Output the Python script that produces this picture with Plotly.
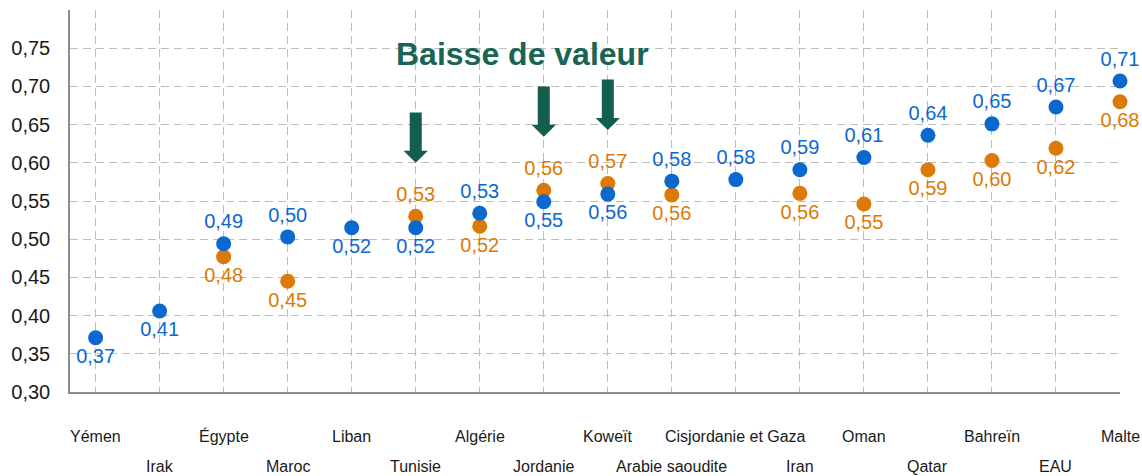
import plotly.graph_objects as go

categories = ["Yémen", "Irak", "Égypte", "Maroc", "Liban", "Tunisie", "Algérie",
              "Jordanie", "Koweït", "Arabie saoudite", "Cisjordanie et Gaza", "Iran",
              "Oman", "Qatar", "Bahreïn", "EAU", "Malte"]
blue_values = [0.371, 0.406, 0.494, 0.503, 0.515, 0.515, 0.534, 0.549, 0.559, 0.576,
               0.578, 0.591, 0.607, 0.636, 0.651, 0.673, 0.707]
orange_values = [None, None, 0.477, 0.445, None, 0.530, 0.517, 0.564, 0.573, 0.558,
                 None, 0.560, 0.546, 0.591, 0.603, 0.619, 0.680]
blue_label_pos = ["bottom", "bottom", "top", "top", "bottom", "bottom", "top", "bottom",
                  "bottom", "top", "top", "top", "top", "top", "top", "top", "top"]
orange_label_pos = ["bottom", "bottom", "bottom", "bottom", "bottom", "top", "bottom", "top",
                    "top", "bottom", "bottom", "bottom", "bottom", "bottom", "bottom",
                    "bottom", "bottom"]
arrow_targets = ["Tunisie", "Jordanie", "Koweït"]
y_ticks = [0.30, 0.35, 0.40, 0.45, 0.50, 0.55, 0.60, 0.65, 0.70, 0.75, 0.80]
title_text = "Baisse de valeur"

BLUE = "#0B68CF"
ORANGE = "#DC7A08"
GREEN = "#145E50"

def fmt(v):
    return "" if v is None else f"{v:.2f}".replace(".", ",")

xs = list(range(len(categories)))
fig = go.Figure()
fig.add_trace(go.Scatter(
    x=xs, y=orange_values, mode="markers+text",
    marker=dict(size=15, color=ORANGE),
    text=[fmt(v) for v in orange_values],
    textposition=[p + " center" for p in orange_label_pos],
    textfont=dict(family="Liberation Sans, Arial", size=20, color=ORANGE),
    cliponaxis=False, showlegend=False, hoverinfo="skip"))
fig.add_trace(go.Scatter(
    x=xs, y=blue_values, mode="markers+text",
    marker=dict(size=15, color=BLUE),
    text=[fmt(v) for v in blue_values],
    textposition=[p + " center" for p in blue_label_pos],
    textfont=dict(family="Liberation Sans, Arial", size=20, color=BLUE),
    cliponaxis=False, showlegend=False, hoverinfo="skip"))

# category labels in two staggered rows
for i, c in enumerate(categories):
    fig.add_annotation(x=i, y=0.30, xref="x", yref="y", text=c, showarrow=False,
                       yanchor="middle", yshift=-44 if i % 2 == 0 else -74,
                       font=dict(family="Liberation Sans, Arial", size=16, color="#1a1a1a"))

# block arrows above selected orange points
for name in arrow_targets:
    i = categories.index(name)
    tip = orange_values[i] + 0.070
    top = tip + 0.066
    neck = tip + 0.0157
    sw, hw = 0.094, 0.19
    path = (f"M {i-sw},{top} L {i+sw},{top} L {i+sw},{neck} L {i+hw},{neck} "
            f"L {i},{tip} L {i-hw},{neck} L {i-sw},{neck} Z")
    fig.add_shape(type="path", path=path, xref="x", yref="y",
                  fillcolor=GREEN, line=dict(width=0), layer="above")

fig.add_annotation(x=6.66, y=0.742, xref="x", yref="y", text=f"<b>{title_text}</b>",
                   showarrow=False, xanchor="center", yanchor="middle",
                   font=dict(family="Liberation Sans, Arial", size=32, color="#1A6453"))

grid = dict(showgrid=True, gridcolor="#BDBDBD", gridwidth=1, griddash="8px,5px")
fig.update_xaxes(range=[-0.4, 16], tickmode="array", tickvals=xs, showticklabels=False,
                 showline=True, linecolor="#8C8C8C", linewidth=1.5, zeroline=False,
                 ticks="", **grid)
fig.update_yaxes(range=[0.30, 0.80], tickmode="array", tickvals=y_ticks,
                 ticktext=[fmt(v) if v < 0.79 else "" for v in y_ticks],
                 showline=True, linecolor="#8C8C8C", linewidth=1.5, zeroline=False,
                 ticks="", ticklabelstandoff=14,
                 tickfont=dict(family="Liberation Sans, Arial", size=20, color="#1a1a1a"),
                 **grid)
fig.update_layout(width=1142, height=476, margin=dict(l=70, r=22, t=10, b=84),
                  plot_bgcolor="white", paper_bgcolor="white")
fig.write_html("out.html", config={"displayModeBar": False},
               post_script="document.body.style.margin='0';document.body.style.overflow='hidden';")
